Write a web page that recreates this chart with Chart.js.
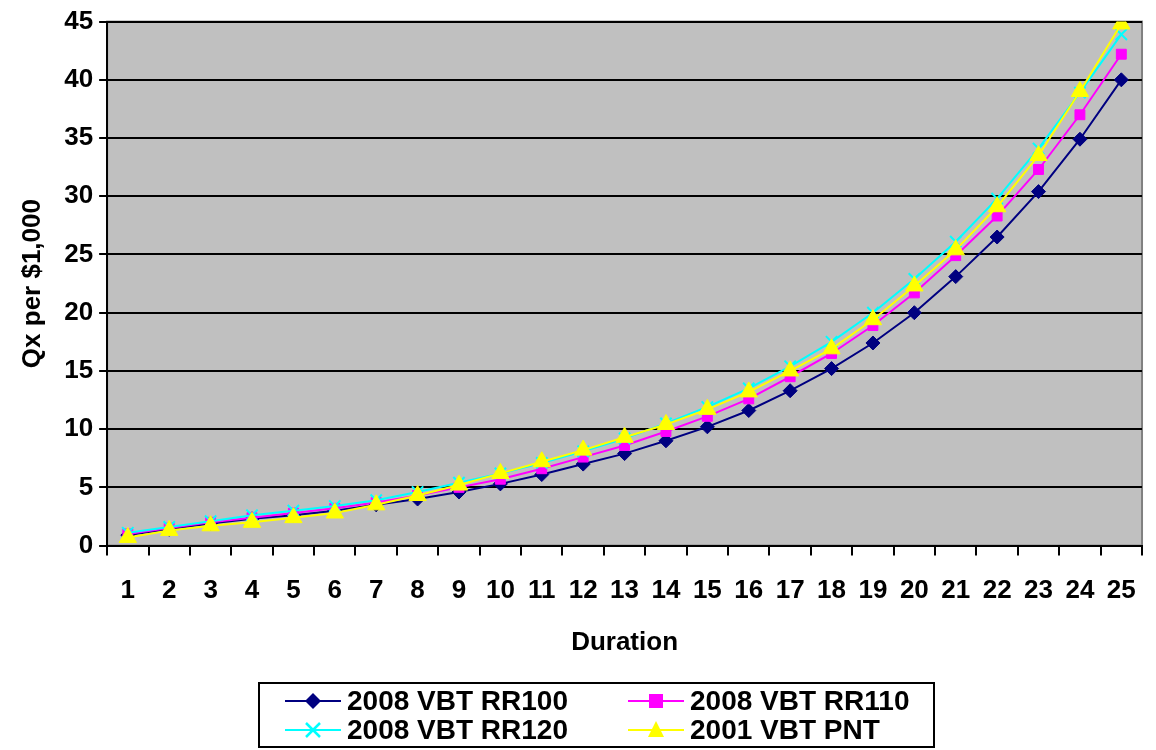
<!DOCTYPE html>
<html><head><meta charset="utf-8">
<script src="https://cdn.jsdelivr.net/npm/chart.js@4"></script>
<style>
body{margin:0;background:#fff;font-family:"Liberation Sans",Arial,sans-serif}
#wrap{position:relative;width:1156px;height:750px}
#legend{position:absolute;left:258px;top:682px;width:677px;height:66px;border:2px solid #000;box-sizing:border-box;
 font-weight:bold;font-size:28px;line-height:29px;padding-top:2px}
#legend div{position:absolute;display:flex;align-items:center;white-space:nowrap}
#legend svg{margin-right:6px}
</style></head><body>
<div id="wrap"><canvas id="c" width="1156" height="750"></canvas>
<div id="legend"></div></div>
<script>
const durations = ['1','2','3','4','5','6','7','8','9','10','11','12','13','14','15','16','17','18','19','20','21','22','23','24','25'];
const rr100 = [0.9,1.4,1.9,2.3,2.6,3.0,3.5,4.0,4.6,5.3,6.1,7.0,7.9,9.0,10.2,11.6,13.3,15.2,17.4,20.0,23.1,26.5,30.4,34.9,40.0];
const rr110 = [1.0,1.5,2.0,2.4,2.8,3.2,3.7,4.3,5.0,5.7,6.6,7.6,8.6,9.8,11.1,12.6,14.5,16.5,18.9,21.7,24.9,28.3,32.3,37.0,42.2];
const rr120 = [1.1,1.6,2.1,2.6,3.0,3.4,3.9,4.6,5.4,6.2,7.1,8.1,9.2,10.5,11.9,13.5,15.4,17.5,20.0,22.9,26.1,29.8,34.1,38.9,43.9];
const pnt   = [0.7,1.3,1.7,2.0,2.4,2.8,3.5,4.3,5.2,6.2,7.2,8.2,9.3,10.4,11.7,13.2,15.0,16.9,19.4,22.3,25.4,29.1,33.5,39.0,44.8];

const font = { family:'"Liberation Sans", Arial, sans-serif', size:26, weight:'bold' };
function ds(label, data, color, style, r, order) {
  return { label, data, order, borderColor:color, backgroundColor:color, pointBackgroundColor:color, pointBorderColor:color,
    borderWidth:2, pointStyle:style, pointRadius:r, pointBorderWidth: style==='crossRot'?2:1, tension:0 };
}
const sets = [
  ds('2008 VBT RR100', rr100, '#000080', 'rectRot', 7, 4),
  ds('2008 VBT RR110', rr110, '#FF00FF', 'rect', 7, 3),
  ds('2008 VBT RR120', rr120, '#00FFFF', 'crossRot', 8, 2),
  ds('2001 VBT PNT', pnt, '#FFFF00', 'triangle', 10, 1)
];
const plotBg = { id:'plotBg', beforeDraw(ch){ const a=ch.chartArea, c=ch.ctx; c.save(); c.fillStyle='#C0C0C0';
  c.fillRect(a.left,a.top,a.right-a.left,a.bottom-a.top); c.strokeStyle='#808080'; c.lineWidth=2;
  c.strokeRect(a.left,a.top,a.right-a.left,a.bottom-a.top); c.restore(); } };

new Chart(document.getElementById('c'), {
  type:'line',
  data:{ labels:durations, datasets:sets },
  plugins:[plotBg],
  options:{ responsive:false, animation:false,
    layout:{ padding:{ left:13, right:8, top:3, bottom:88 } },
    plugins:{ legend:{display:false}, tooltip:{enabled:false} },
    scales:{
      x:{ offset:true, grid:{ display:true, offset:true, drawOnChartArea:false, color:'#000', lineWidth:2, tickLength:10 },
          border:{color:'#000',width:2},
          ticks:{ font, color:'#000', maxRotation:0, autoSkip:false, padding:20 },
          title:{ display:true, text:'Duration', font, color:'#000', padding:{top:0} } },
      y:{ min:0, max:45, ticks:{ stepSize:5, font, color:'#000', padding:6 },
          grid:{ color:'#000', lineWidth:2, tickLength:8 }, border:{color:'#000',width:2},
          title:{ display:true, text:'Qx per $1,000', font, color:'#000', padding:{bottom:10} } }
    }
  }
});

const svgs = {
  rectRot:c=>`<polygon points="28,3 36,11 28,19 20,11" fill="${c}"/>`,
  rect:c=>`<rect x="21" y="4" width="14" height="14" fill="${c}"/>`,
  crossRot:c=>`<path d="M21,4 L35,18 M35,4 L21,18" stroke="${c}" stroke-width="2.5"/>`,
  triangle:c=>`<polygon points="28,2 36,18 20,18" fill="${c}"/>`
};
const pos = [[25,2],[368,2],[25,31],[368,31]];
const leg = document.getElementById('legend');
sets.forEach((s,i) => {
  const d = document.createElement('div');
  d.style.left = pos[i][0]+'px'; d.style.top = pos[i][1]+'px';
  d.innerHTML = `<svg width="56" height="22"><line x1="0" y1="11" x2="56" y2="11" stroke="${s.borderColor}" stroke-width="2"/>${svgs[s.pointStyle](s.borderColor)}</svg>${s.label}`;
  leg.appendChild(d);
});
</script></body></html>
